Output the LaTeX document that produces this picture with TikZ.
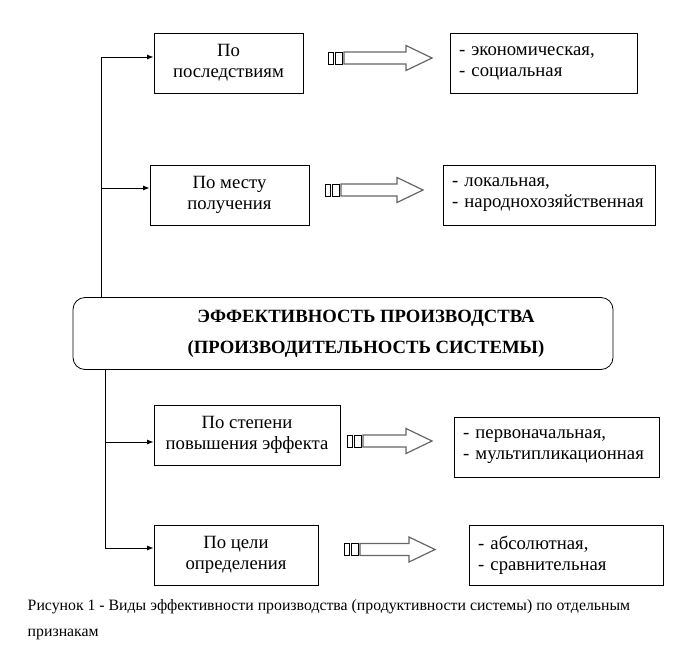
\documentclass[tikz,border=0pt]{standalone}
\usepackage{fontspec}
\setmainfont{Liberation Serif}
\usetikzlibrary{arrows.meta,positioning,calc}

% striped block arrow: start x, tip x, mid y
\newcommand{\stripearrow}[3]{%
  \draw[line width=0.6pt] (#1,#3-6) rectangle ++(5,12);
  \draw[line width=0.6pt] (#1+7,#3-6) rectangle ++(7,12);
  \draw[gray!80!black,line width=1.2pt] (#1+16,#3-6) -- (#2-26,#3-6) -- (#2-26,#3-12.5)
     -- (#2,#3) -- (#2-26,#3+12.5) -- (#2-26,#3+6) -- (#1+16,#3+6) -- cycle;
}

\begin{document}
\begin{tikzpicture}[x=1pt,y=-1pt,>=Latex,line width=0.8pt,
   font=\fontsize{18.7}{21}\selectfont]
   \useasboundingbox (0,0) rectangle (693,667);
   \tikzset{kind/.style={draw,align=center,inner sep=0pt,minimum height=60pt},
            sort/.style={draw,align=left,inner xsep=9pt,inner ysep=0pt,minimum height=60pt}}
   % criteria
   \node[kind,minimum width=149pt] (b1) at (228.5,63) {По\\последствиям};
   \node[kind,minimum width=159pt] (b2) at (229.5,195) {По месту\\получения};
   \node[kind,minimum width=186pt] (b3) at (247,435) {По степени\\повышения эффекта};
   \node[kind,minimum width=164pt] (b4) at (236,555) {По цели\\определения};
   % kinds
   \node[sort,text width=169pt] (r1) at (543.5,63) {- экономическая,\\- социальная};
   \node[sort,text width=194pt] (r2) at (549,195) {- локальная,\\- народнохозяйственная};
   \node[sort,text width=187pt] (r3) at (556.5,447) {- первоначальная,\\- мультипликационная};
   \node[sort,text width=176pt] (r4) at (566,555) {- абсолютная,\\- сравнительная};
   % main
   \node[draw,rounded corners=12pt,minimum width=540pt,minimum height=72pt,
         align=center,font=\fontsize{18.7}{31}\selectfont\bfseries] (main) at (343,333.5)
         {\hspace*{46pt}ЭФФЕКТИВНОСТЬ ПРОИЗВОДСТВА\\\hspace*{46pt}(ПРОИЗВОДИТЕЛЬНОСТЬ СИСТЕМЫ)};
   % connectors
   \coordinate (j1) at (101,57);
   \coordinate (j2) at (101,188);
   \coordinate (j3) at (105,442);
   \coordinate (j4) at (105,548);
   \draw (main.north -| j1) -- (j1);
   \draw (main.south -| j4) -- (j4);
   \draw[->] (j1) -- (j1 -| b1.west);
   \draw[->] (j2) -- (j2 -| b2.west);
   \draw[->] (j3) -- (j3 -| b3.west);
   \draw[->] (j4) -- (j4 -| b4.west);
   \stripearrow{328}{432}{58}
   \stripearrow{325}{423}{190}
   \stripearrow{347}{432}{441}
   \stripearrow{344}{435}{549.5}
   % caption
   \node[anchor=west,font=\fontsize{15.8}{26}\selectfont,align=left] (cap) at (24,620)
     {Рисунок 1 - Виды эффективности производства (продуктивности системы) по отдельным\\признакам};
\end{tikzpicture}
\end{document}
